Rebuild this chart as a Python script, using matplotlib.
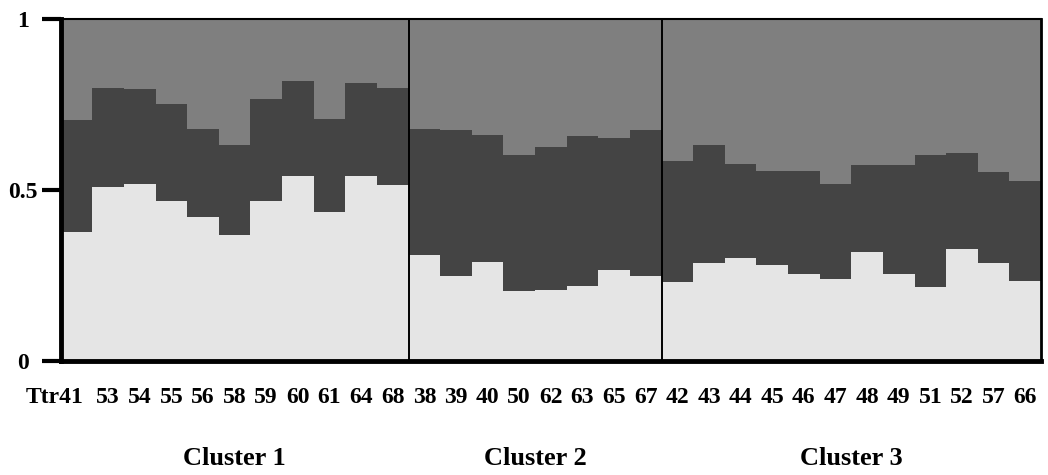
import matplotlib
matplotlib.use("Agg")
import matplotlib.pyplot as plt
import matplotlib.transforms as mtransforms
import numpy as np

# sample ids and cluster membership
samples = ['41', '53', '54', '55', '56', '58', '59', '60', '61', '64', '68',
           '38', '39', '40', '50', '62', '63', '65', '67',
           '42', '43', '44', '45', '46', '47', '48', '49', '51', '52', '57', '66']
clusters = ['Cluster 1', 'Cluster 2', 'Cluster 3']
cluster_sizes = [11, 8, 12]

# membership of the bottom (light) component
comp1 = [0.378, 0.510, 0.519, 0.468, 0.422, 0.369, 0.467, 0.540, 0.436, 0.540, 0.515,
         0.311, 0.248, 0.290, 0.206, 0.208, 0.218, 0.266, 0.248,
         0.232, 0.287, 0.302, 0.281, 0.254, 0.239, 0.319, 0.253, 0.216, 0.327, 0.287, 0.234]
# cumulative top of the middle (dark) component
comp12 = [0.704, 0.799, 0.796, 0.752, 0.677, 0.631, 0.767, 0.818, 0.707, 0.812, 0.799,
          0.678, 0.676, 0.662, 0.603, 0.627, 0.658, 0.652, 0.674,
          0.585, 0.633, 0.577, 0.557, 0.555, 0.518, 0.572, 0.574, 0.601, 0.608, 0.553, 0.525]

comp1 = np.array(comp1)
comp2 = np.array(comp12) - comp1
comp3 = 1 - np.array(comp12)

plt.rcParams['font.family'] = ['Liberation Serif', 'DejaVu Serif']
plt.rcParams['font.weight'] = 'bold'

fig = plt.figure(figsize=(10.48, 4.75), dpi=100)
ax = fig.add_axes([60.7 / 1048, 1 - 361 / 475, (1041 - 60.7) / 1048, (361 - 19) / 475])

x = np.arange(len(samples))
ax.bar(x, comp1, width=1.0, color='#e5e5e5', linewidth=0)
ax.bar(x, comp2, width=1.0, bottom=comp1, color='#444444', linewidth=0)
ax.bar(x, comp3, width=1.0, bottom=comp1 + comp2, color='#7f7f7f', linewidth=0)

# cluster separators
bounds = np.cumsum(cluster_sizes)[:-1] - 0.5
for b in bounds:
    ax.axvline(b, color='black', linewidth=1.4)

ax.set_xlim(-0.5, len(samples) - 0.5)
ax.set_ylim(0, 1)

ax.spines['left'].set_linewidth(3.5)
ax.spines['bottom'].set_linewidth(3.5)
ax.spines['top'].set_linewidth(1.5)
ax.spines['right'].set_linewidth(2)

ax.set_yticks([0, 0.5, 1])
ax.set_yticklabels(['0', '0.5', '1'], fontsize=17, fontweight='bold', ha='center')
ax.tick_params(axis='y', length=14, width=3, pad=13)

labels = ['Ttr' + samples[0]] + samples[1:]
ax.set_xticks(x)
ax.set_xticklabels(labels, fontsize=17, fontweight='bold')
ax.tick_params(axis='x', length=0, pad=19)
# keep the "41" under the first bar, with "Ttr" hanging to the left
first = ax.get_xticklabels()[0]
first.set_ha('right')
first.set_transform(first.get_transform() +
                    mtransforms.ScaledTranslation(0.07, 0, fig.dpi_scale_trans))

# cluster names under each group
starts = np.concatenate([[0], np.cumsum(cluster_sizes)[:-1]])
for name, s, n in zip(clusters, starts, cluster_sizes):
    ax.text(s - 0.5 + n / 2, -0.285, name, transform=ax.get_xaxis_transform(),
            ha='center', va='center', fontsize=19, fontweight='bold')

plt.savefig('out.png', dpi=100)
